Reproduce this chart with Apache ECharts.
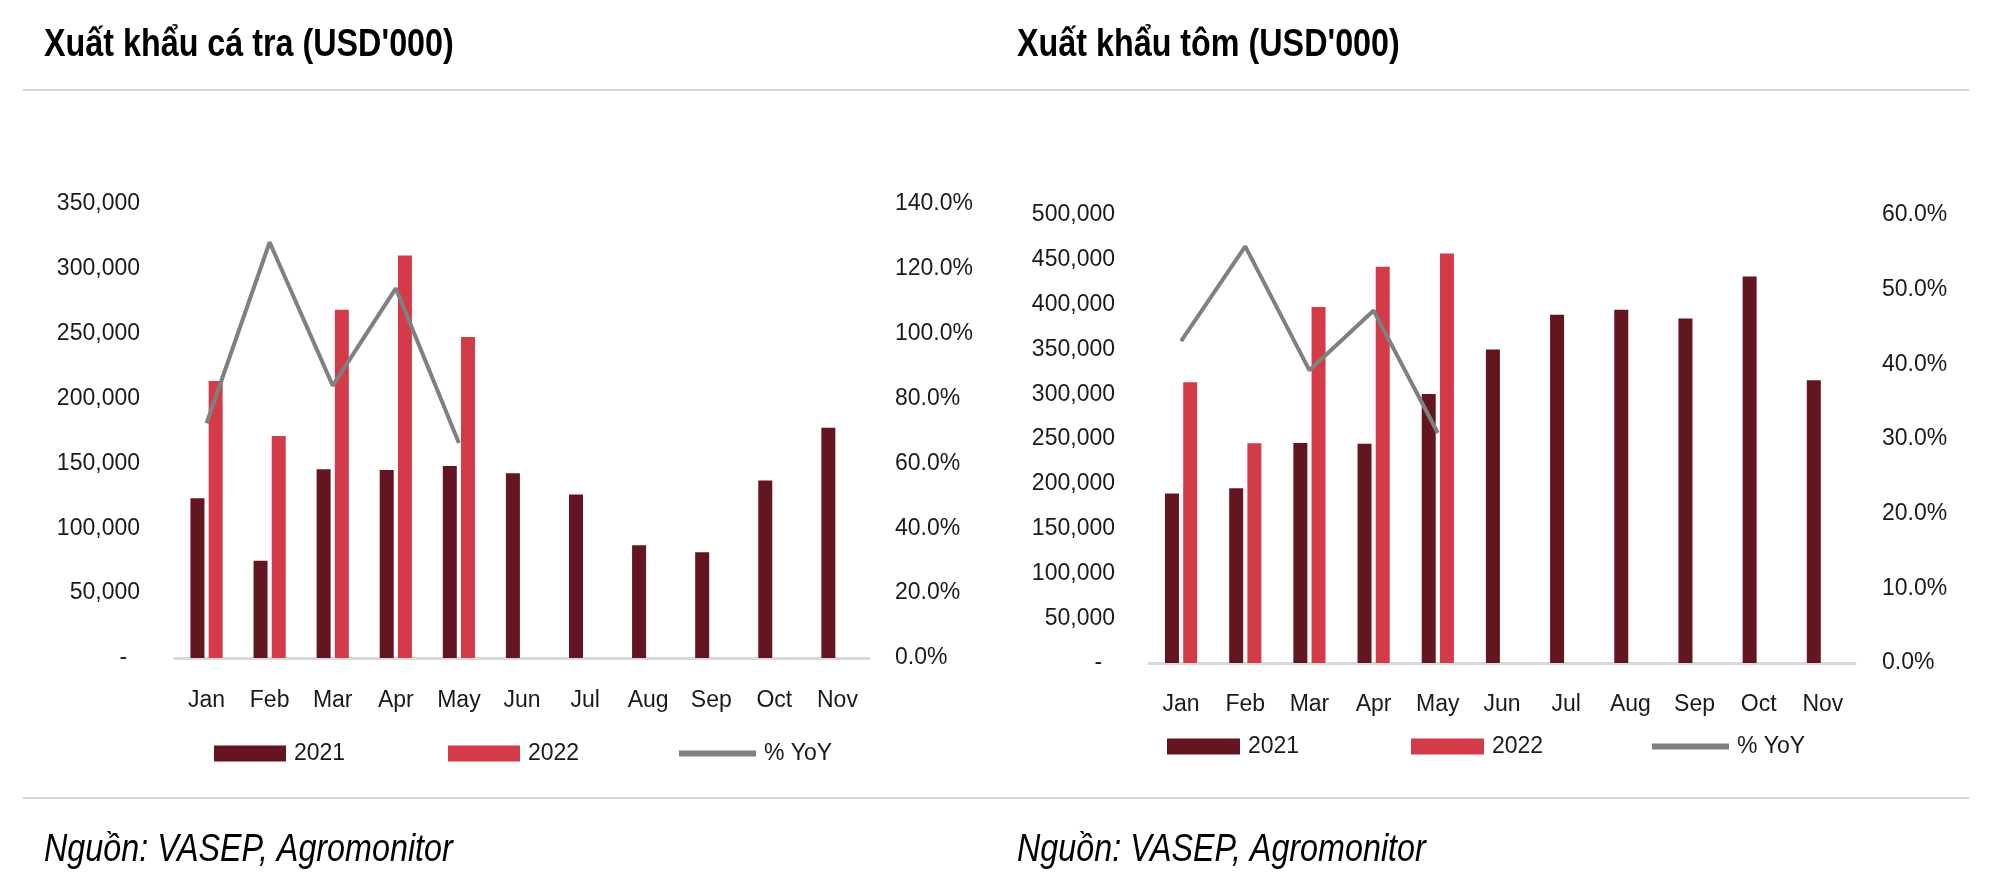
<!DOCTYPE html>
<html>
<head>
<meta charset="utf-8">
<title>Xuất khẩu cá tra / tôm</title>
<script src="https://cdn.jsdelivr.net/npm/echarts@6/dist/echarts.min.js"></script>
<style>
  html, body { margin: 0; padding: 0; background: #fff; }
  #chart { width: 2000px; height: 875px; }
</style>
</head>
<body>
<div id="chart"></div>
<script>
// months on the x axis
var months = ['Jan', 'Feb', 'Mar', 'Apr', 'May', 'Jun', 'Jul', 'Aug', 'Sep', 'Oct', 'Nov'];

// ca tra (USD'000)
var traY2021 = [123200, 74900, 145500, 145000, 148100, 142500, 126000, 87000, 81600, 136800, 177600];
var traY2022 = [213500, 171200, 268400, 310300, 247400];
var traYoY = [72.4, 128.2, 84.0, 114.0, 66.3];

// tom (USD'000)
var tomY2021 = [189100, 195100, 245600, 244800, 300200, 350000, 388600, 394200, 384600, 431400, 315500];
var tomY2022 = [313300, 245300, 397200, 442200, 457100];
var tomYoY = [43.1, 55.8, 39.2, 47.2, 30.8];

var c2021 = '#63161f';
var c2022 = '#d43b48';
var cLine = '#808080';
var txt = '#1a1a1a';
var font = "'Liberation Sans', Arial, sans-serif";

function numLabel(v) {
  if (v === 0) return '-  ';
  return v.toLocaleString('en-US');
}
function pctLabel(v) {
  return v.toFixed(1) + '%';
}

function xAxisFor(gi, margin) {
  return {
    type: 'category',
    gridIndex: gi,
    data: months,
    axisTick: { show: false },
    axisLine: { lineStyle: { color: '#d9d9d9', width: 3 } },
    axisLabel: { color: txt, fontSize: 23, fontFamily: font, margin: margin }
  };
}
function yAxisFor(gi, max, interval, fmt, side, margin) {
  return {
    type: 'value',
    gridIndex: gi,
    position: side,
    min: 0,
    max: max,
    interval: interval,
    splitLine: { show: false },
    axisLine: { show: false },
    axisTick: { show: false },
    axisLabel: { color: txt, fontSize: 23, fontFamily: font, margin: margin, formatter: fmt }
  };
}
function barSeries(name, color, data, xi, yi) {
  return {
    name: name,
    type: 'bar',
    xAxisIndex: xi,
    yAxisIndex: yi,
    data: data,
    barWidth: 14,
    barGap: '30%',
    itemStyle: { color: color },
    animation: false
  };
}
function lineSeries(data, xi, yi) {
  return {
    name: '% YoY',
    type: 'line',
    xAxisIndex: xi,
    yAxisIndex: yi,
    data: data,
    symbol: 'none',
    lineStyle: { color: cLine, width: 4 },
    itemStyle: { color: cLine },
    animation: false
  };
}
function legendItem(name, left, top, w, h) {
  return {
    data: [name],
    left: left,
    top: top,
    padding: 0,
    itemWidth: w,
    itemHeight: h,
    icon: 'rect',
    selectedMode: false,
    textStyle: { color: txt, fontSize: 23, fontFamily: font, padding: [0, 0, 0, 3] }
  };
}
// condensed text (no narrow font installed, so squeeze it horizontally)
function narrowText(str, x, y, weight) {
  return {
    type: 'text',
    x: x,
    y: y,
    scaleX: 0.85,
    style: {
      text: str,
      fill: '#000',
      font: weight + ' 38px ' + font,
      verticalAlign: 'middle'
    }
  };
}

var myChart = echarts.init(document.getElementById('chart'));

var option = {
  backgroundColor: '#fff',
  graphic: [
    narrowText("Xuất khẩu cá tra (USD'000)", 44, 46, 'bold'),
    narrowText("Xuất khẩu tôm (USD'000)", 1017, 46, 'bold'),
    { type: 'line', shape: { x1: 23, y1: 90, x2: 1969, y2: 90 }, style: { stroke: '#d4d4d4', lineWidth: 2 } },
    { type: 'line', shape: { x1: 23, y1: 798, x2: 1969, y2: 798 }, style: { stroke: '#d4d4d4', lineWidth: 2 } },
    narrowText('Nguồn: VASEP, Agromonitor', 44, 850, 'italic'),
    narrowText('Nguồn: VASEP, Agromonitor', 1017, 850, 'italic')
  ],
  legend: [
    legendItem('2021', 214, 742, 72, 16),
    legendItem('2022', 448, 742, 72, 16),
    legendItem('% YoY', 679, 742, 77, 6),
    legendItem('2021', 1167, 735, 73, 16),
    legendItem('2022', 1411, 735, 73, 16),
    legendItem('% YoY', 1652, 735, 77, 6)
  ],
  grid: [
    { left: 175, right: 1131, top: 204, bottom: 217 },
    { left: 1149, right: 145, top: 215, bottom: 212 }
  ],
  xAxis: [xAxisFor(0, 31), xAxisFor(1, 30)],
  yAxis: [
    yAxisFor(0, 350000, 50000, numLabel, 'left', 35),
    yAxisFor(0, 140, 20, pctLabel, 'right', 26),
    yAxisFor(1, 500000, 50000, numLabel, 'left', 34),
    yAxisFor(1, 60, 10, pctLabel, 'right', 27)
  ],
  series: [
    barSeries('2021', c2021, traY2021, 0, 0),
    barSeries('2022', c2022, traY2022, 0, 0),
    lineSeries(traYoY, 0, 1),
    barSeries('2021', c2021, tomY2021, 1, 2),
    barSeries('2022', c2022, tomY2022, 1, 2),
    lineSeries(tomYoY, 1, 3)
  ]
};

myChart.setOption(option);
</script>
</body>
</html>
